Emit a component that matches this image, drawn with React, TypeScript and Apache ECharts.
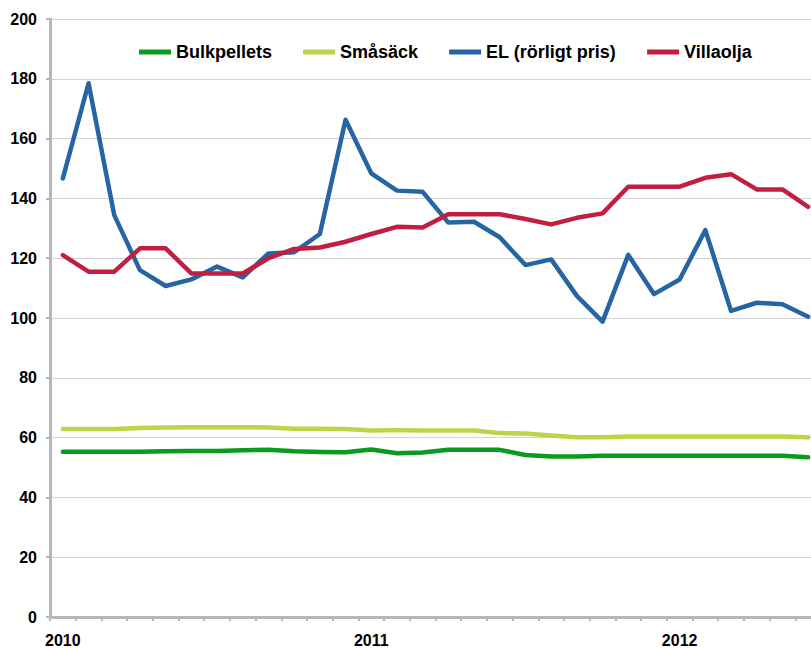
import React, { useEffect, useRef } from "react";
import * as echarts from "echarts";

const months: string[] = [
  "2010-01","2010-02","2010-03","2010-04","2010-05","2010-06","2010-07","2010-08","2010-09","2010-10","2010-11","2010-12",
  "2011-01","2011-02","2011-03","2011-04","2011-05","2011-06","2011-07","2011-08","2011-09","2011-10","2011-11","2011-12",
  "2012-01","2012-02","2012-03","2012-04","2012-05","2012-06",
];

const bulkpellets: number[] = [
  55.3, 55.3, 55.3, 55.3, 55.4, 55.5, 55.5, 55.8, 55.9, 55.4, 55.2, 55.1,
  56.0, 54.8, 55.0, 55.9, 55.9, 55.9, 54.2, 53.7, 53.7, 53.9, 53.9, 53.9,
  53.9, 53.9, 53.9, 53.9, 53.9, 53.4,
];
const smasack: number[] = [
  62.9, 62.9, 62.9, 63.2, 63.4, 63.5, 63.5, 63.5, 63.4, 63.0, 63.0, 62.9,
  62.4, 62.5, 62.4, 62.4, 62.4, 61.5, 61.4, 60.7, 60.1, 60.1, 60.4, 60.4,
  60.4, 60.4, 60.4, 60.4, 60.4, 60.1,
];
const el: number[] = [
  146.7, 178.5, 134.4, 116.0, 110.7, 112.9, 117.2, 113.6, 121.6, 122.0, 128.1, 166.3,
  148.4, 142.6, 142.2, 131.9, 132.2, 127.0, 117.7, 119.6, 107.4, 98.8, 121.1, 108.0,
  112.9, 129.4, 102.4, 105.1, 104.6, 100.4,
];
const villaolja: number[] = [
  121.0, 115.5, 115.5, 123.3, 123.3, 114.9, 114.9, 114.9, 120.0, 123.1, 123.6, 125.5,
  128.1, 130.5, 130.3, 134.7, 134.7, 134.7, 133.1, 131.3, 133.5, 135.0, 143.9, 143.9,
  143.9, 146.9, 148.1, 143.0, 143.0, 137.2,
];

const seriesNames: string[] = ["Bulkpellets", "Småsäck", "EL (rörligt pris)", "Villaolja"];
const seriesColors: string[] = ["#0a9a1e", "#bdd447", "#2565a3", "#c21f40"];
const yTicks = { min: 0, max: 200, interval: 20 };

const FONT = "'Liberation Sans', Arial, Helvetica, sans-serif";

export default function App() {
  const ref = useRef<HTMLDivElement>(null);
  useEffect(() => {
    if (!ref.current) return;
    const chart = echarts.init(ref.current, undefined, { renderer: "svg" });
    const data = [bulkpellets, smasack, el, villaolja];
    chart.setOption({
      animation: false,
      backgroundColor: "#ffffff",
      textStyle: { fontFamily: FONT },
      legend: {
        left: 134,
        top: 38,
        icon: "rect",
        itemWidth: 32,
        itemHeight: 5,
        itemGap: 31,
        data: seriesNames,
        textStyle: { fontFamily: FONT, fontWeight: "bold", fontSize: 18, color: "#000" },
      },
      grid: { left: 50, top: 19, bottom: 32, right: 0, containLabel: false },
      xAxis: {
        type: "category",
        data: months,
        boundaryGap: true,
        axisLine: { show: true, lineStyle: { color: "#b8b8b8", width: 3 } },
        axisTick: { show: true, interval: 0, length: 4, lineStyle: { color: "#b8b8b8", width: 2 } },
        axisLabel: {
          interval: (index: number) => index % 12 === 0,
          formatter: (v: string) => v.slice(0, 4),
          fontFamily: FONT,
          fontWeight: "bold",
          fontSize: 16,
          color: "#000",
          margin: 15,
        },
        splitLine: { show: false },
      },
      yAxis: {
        type: "value",
        min: yTicks.min,
        max: yTicks.max,
        interval: yTicks.interval,
        axisLine: { show: true, lineStyle: { color: "#b8b8b8", width: 3 } },
        axisTick: { show: true, length: 4, lineStyle: { color: "#b8b8b8", width: 2 } },
        axisLabel: {
          fontFamily: FONT,
          fontWeight: "bold",
          fontSize: 16,
          color: "#000",
          margin: 13,
        },
        splitLine: { show: true, lineStyle: { color: "#d2d2d2", width: 1 } },
      },
      series: seriesNames.map((name, i) => ({
        name,
        type: "line",
        data: data[i],
        showSymbol: false,
        symbol: "none",
        color: seriesColors[i],
        lineStyle: { color: seriesColors[i], width: 4.5, join: "round", cap: "round" },
        z: 2 + i,
      })),
    });
    return () => chart.dispose();
  }, []);
  return (
    <div
      ref={ref}
      style={{ position: "fixed", left: 0, top: 0, width: 821, height: 649, background: "#fff" }}
    />
  );
}
